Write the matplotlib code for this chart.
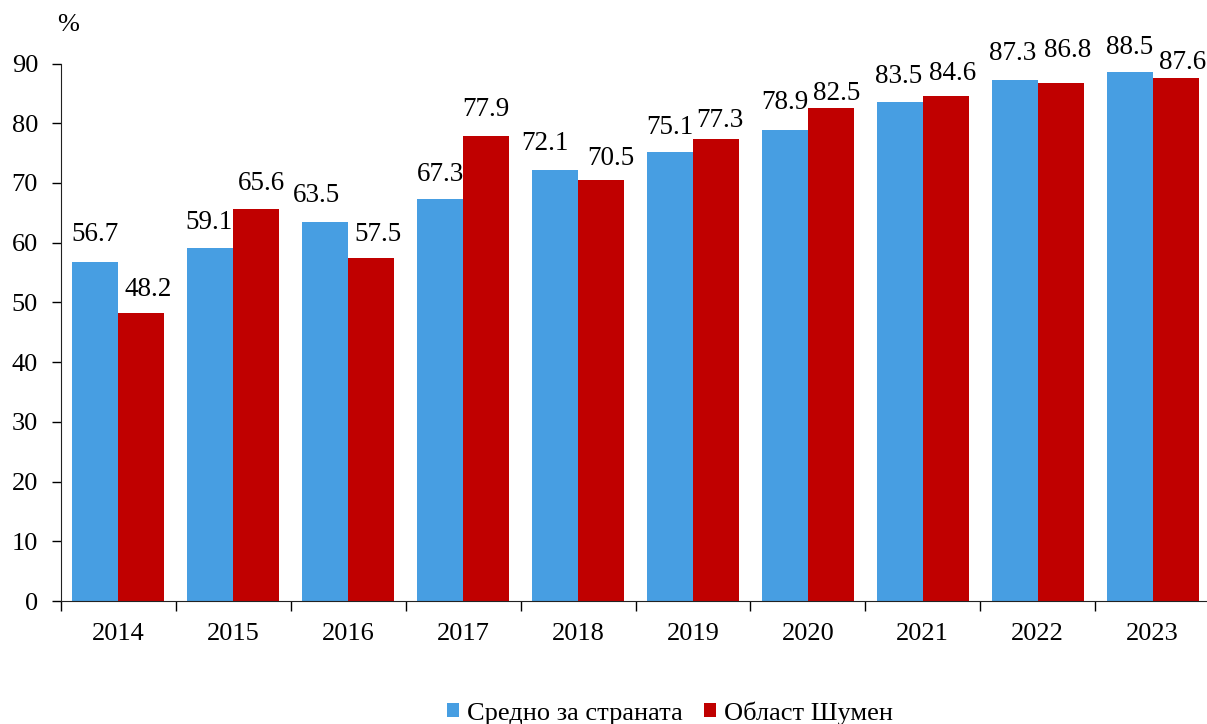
import numpy as np
import matplotlib.pyplot as plt

plt.rcParams['font.family'] = ['Liberation Serif', 'DejaVu Serif']

# data
years = ['2014', '2015', '2016', '2017', '2018', '2019', '2020', '2021', '2022', '2023']
country_avg = [56.7, 59.1, 63.5, 67.3, 72.1, 75.1, 78.9, 83.5, 87.3, 88.5]
shumen = [48.2, 65.6, 57.5, 77.9, 70.5, 77.3, 82.5, 84.6, 86.8, 87.6]
series_names = ['Средно за страната', 'Област Шумен']

# hand placement of the value labels (pixels from bar top centre), as in the original
avg_lbl_dx = [0, -1, -9, 0, -10, 0, 0, -1, -2, 0]
avg_lbl_dy = [28, 26, 26, 25, 27, 25, 27, 26, 26, 25]
sh_lbl_dx = [7, 5, 7, 0, 10, 4, 6, 7, 7, 7]
sh_lbl_dy = [24, 26, 23, 26, 21, 19, 15, 22, 32, 15]

blue = '#479ee2'
red = '#c00000'
fs = 19.5
px = 0.72  # points per pixel at 100 dpi

fig = plt.figure(figsize=(12.07, 7.24), dpi=100)
ax = fig.add_axes([61 / 1207, 1 - 601 / 724, 1149 / 1207, 537.5 / 724])

x = np.arange(len(years))
w = 0.4
b1 = ax.bar(x - w / 2, country_avg, w, color=blue, label=series_names[0])
b2 = ax.bar(x + w / 2, shumen, w, color=red, label=series_names[1])

# value labels above the bars
for bars, vals, dxs, dys in [(b1, country_avg, avg_lbl_dx, avg_lbl_dy),
                             (b2, shumen, sh_lbl_dx, sh_lbl_dy)]:
    for rect, v, dx, dy in zip(bars, vals, dxs, dys):
        ax.annotate(f'{v:.1f}', (rect.get_x() + rect.get_width() / 2, v),
                    xytext=(dx * px, dy * px), textcoords='offset points',
                    ha='center', va='center', fontsize=fs)

ax.set_xlim(-0.5, len(years) - 0.5)
ax.set_ylim(0, 90)
ax.set_yticks(np.arange(0, 91, 10))
ax.tick_params(axis='y', labelsize=19, length=6.5, width=1, direction='out', pad=10)

# category labels centred, tick marks between categories
ax.set_xticks(x)
ax.set_xticklabels(years, fontsize=19)
ax.tick_params(axis='x', which='major', length=0, pad=16)
ax.set_xticks(np.arange(-0.5, len(years) - 0.4, 1), minor=True)
ax.tick_params(axis='x', which='minor', length=7, width=1, direction='out')

for s in ['top', 'right']:
    ax.spines[s].set_visible(False)
for s in ['left', 'bottom']:
    ax.spines[s].set_color('#222222')

fig.text(57 / 1207, 1 - 25 / 724, '%', fontsize=19, va='center', ha='left')

fig.legend(loc='center', bbox_to_anchor=(670 / 1207, 1 - 713 / 724), ncol=2,
           frameon=False, fontsize=19, handlelength=0.45, handleheight=0.45,
           handletextpad=0.3, columnspacing=0.8, borderaxespad=0)

fig.savefig('out.png', dpi=100)
